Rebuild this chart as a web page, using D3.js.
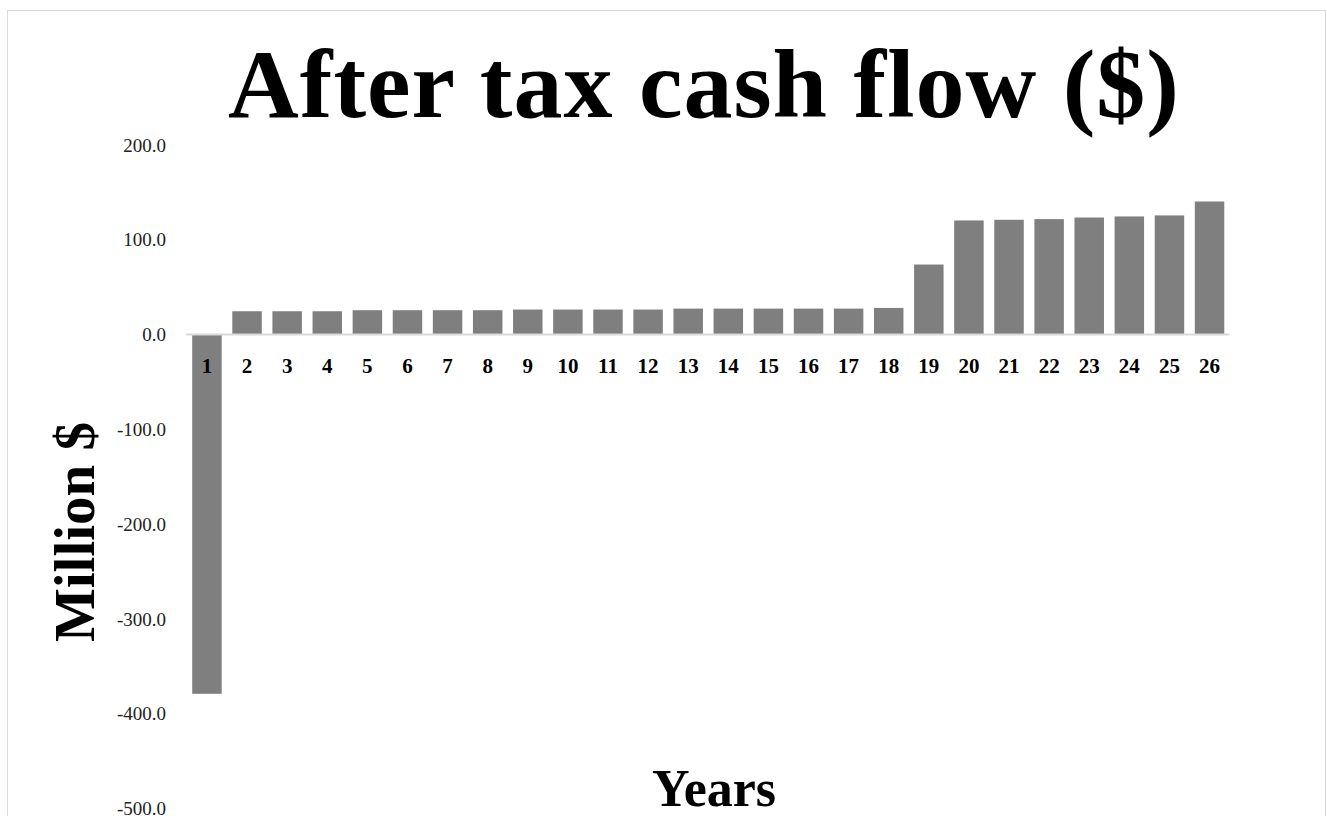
<!DOCTYPE html>
<html>
<head>
<meta charset="utf-8">
<script src="https://cdn.jsdelivr.net/npm/d3@7"></script>
<style>
  body { margin: 0; background: #fff; }
  svg { display: block; }
  .tick line, .domain { display: none; }
</style>
</head>
<body>
<div id="chart"></div>
<script>
var years = d3.range(1, 27).map(String)
var cashFlow = [-379.0, 24.6, 24.6, 24.6, 25.7, 25.7, 25.7, 25.7, 26.4, 26.4,
  26.4, 26.4, 27.4, 27.4, 27.4, 27.4, 27.4, 28.1, 73.9, 120.4,
  121.1, 121.8, 123.5, 124.6, 125.7, 140.4]
var yTicks = [200, 100, 0, -100, -200, -300, -400, -500]

var W = 1327, H = 816
var serif = "'Liberation Serif', 'Times New Roman', serif"

var svg = d3.select("#chart").append("svg")
  .attr("width", W).attr("height", H)

// chart frame
svg.append("rect")
  .attr("x", 7.5).attr("y", 10.5)
  .attr("width", W - 9).attr("height", H)
  .attr("fill", "none").attr("stroke", "#d9d9d9")

var x = d3.scaleBand().domain(years).range([187, 1229.5]).paddingInner(0.265).paddingOuter(0.13)
var y = d3.scaleLinear().domain([-500, 200]).range([808.5, 145])

// bars
svg.append("g").selectAll("rect")
  .data(cashFlow)
  .enter().append("rect")
  .attr("x", function(d, i) { return x(years[i]) })
  .attr("width", x.bandwidth())
  .attr("y", function(d) { return y(Math.max(0, d)) })
  .attr("height", function(d) { return Math.abs(y(d) - y(0)) })
  .attr("fill", "#7f7f7f")

// zero line
svg.append("line")
  .attr("x1", 186).attr("x2", 1229.5)
  .attr("y1", y(0)).attr("y2", y(0))
  .attr("stroke", "#d9d9d9").attr("stroke-width", 2)

// y axis labels (plain hyphen for negatives, like the original)
var yAxis = svg.append("g")
  .attr("transform", "translate(175,0)")
  .call(d3.axisLeft(y).tickValues(yTicks)
    .tickFormat(function(d) { return d.toFixed(1) })
    .tickSize(0).tickPadding(9))
yAxis.selectAll("text")
  .style("font-family", serif).style("font-size", "19px").attr("fill", "#222")

// x category labels just under zero line
var xAxis = svg.append("g")
  .attr("transform", "translate(0," + y(0) + ")")
  .call(d3.axisBottom(x).tickSize(0).tickPadding(24))
xAxis.selectAll("text")
  .style("font-family", serif).style("font-size", "21px").style("font-weight", "bold").attr("fill", "#000")

// title
svg.append("text")
  .attr("x", 704).attr("y", 117)
  .attr("text-anchor", "middle")
  .style("font-family", serif).style("font-size", "98px").style("font-weight", "bold")
  .style("letter-spacing", "1px")
  .text("After tax cash flow ($)")

// axis titles
svg.append("text")
  .attr("transform", "translate(94,532) rotate(-90)")
  .attr("text-anchor", "middle")
  .style("font-family", serif).style("font-size", "57px").style("font-weight", "bold")
  .text("Million $")

svg.append("text")
  .attr("x", 714).attr("y", 806)
  .attr("text-anchor", "middle")
  .style("font-family", serif).style("font-size", "52px").style("font-weight", "bold")
  .text("Years")
</script>
</body>
</html>
